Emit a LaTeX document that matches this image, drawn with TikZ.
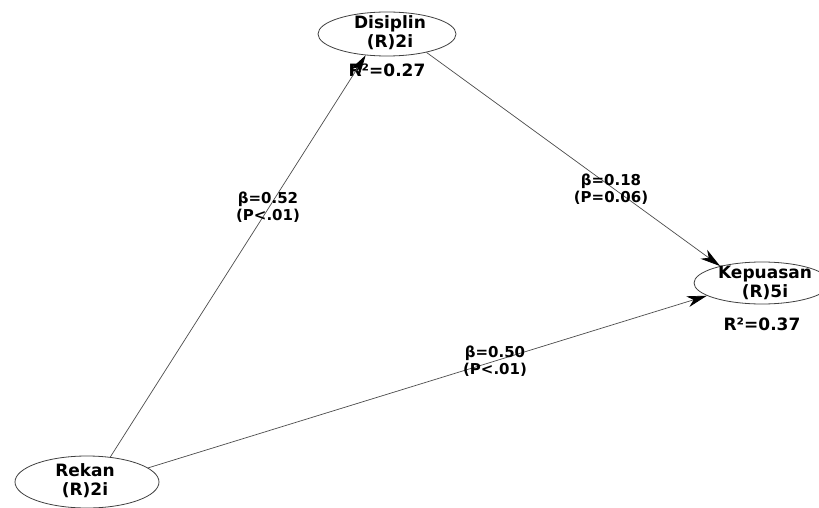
\documentclass[tikz,border=0pt]{standalone}
\usepackage{fontspec}
\setmainfont{DejaVu Sans}
\usetikzlibrary{arrows.meta,shapes.geometric}
\begin{document}
\begin{tikzpicture}[x=1pt,y=-1pt,
  ell/.style={draw=black!75, line width=0.8pt, ellipse, inner sep=0pt},
  txt/.style={font=\fontsize{17}{19}\selectfont\bfseries, inner sep=0pt, align=center},
  rsq/.style={font=\fontsize{17}{18}\selectfont\bfseries, inner sep=0pt, anchor=base},
  lab/.style={font=\fontsize{15}{17}\selectfont\bfseries, inner sep=0pt, align=center},
  conn/.style={draw=black!70, line width=0.7pt, -{Stealth[length=20pt,width=11pt,inset=6pt,black]}}]
\useasboundingbox (0,0) rectangle (819,508);
\clip (0,0) rectangle (819,508);
\fill[white] (0,0) rectangle (819,508);
% ellipses
\node[ell, minimum width=138pt, minimum height=44pt] (dis) at (387,34) {};
\node[ell, minimum width=136pt, minimum height=42pt] (kep) at (762,283) {};
\node[ell, minimum width=144pt, minimum height=52pt] (rek) at (87,482) {};
% node texts
\node[txt] (dist) at (390,32.5) {Disiplin\\(R)2i};
\node[txt] (kept) at (765,283) {Kepuasan\\(R)5i};
\node[txt] (rekt) at (85,481) {Rekan\\(R)2i};
\node[rsq] (r2dis) at (387,77) {R²=0.27};
\node[rsq] (r2kep) at (762,330) {R²=0.37};
% connectors
\draw[conn] (rek.47) -- (dis.225);
\draw[conn] (dis.-25) -- (kep.158);
\draw[conn] (rek.13) -- (kep.193);
% labels
\node[lab] (l1) at (268,207) {β=0.52\\(P<.01)};
\node[lab] (l2) at (611,189) {β=0.18\\(P=0.06)};
\node[lab] (l3) at (495,361) {β=0.50\\(P<.01)};
\end{tikzpicture}
\end{document}
